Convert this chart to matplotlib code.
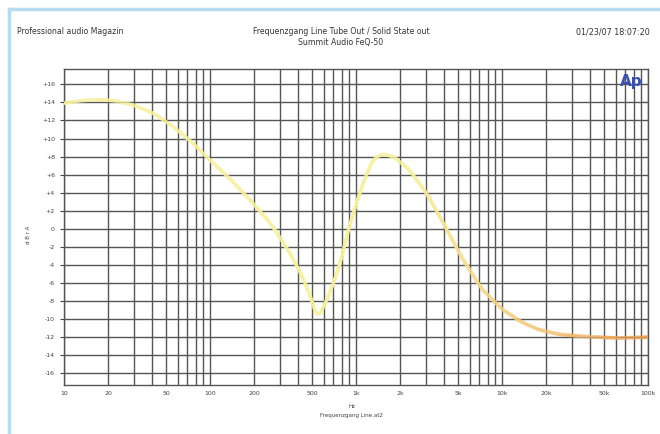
import numpy as np
import matplotlib.pyplot as plt
from matplotlib.collections import LineCollection

# frequency response
freq_hz = [10, 13, 17, 22, 30, 41, 55, 75, 100, 140, 190, 260, 350, 420,
           480, 545, 590, 680, 780, 900, 1100, 1300, 1500, 1800, 2300, 3000,
           4000, 5400, 7300, 10000, 13500, 18000, 25000, 34000, 46000, 62000, 100000]
level_db = [13.9, 14.2, 14.3, 14.2, 13.7, 12.8, 11.4, 9.6, 7.6, 5.4, 3.1, 0.6,
            -2.6, -5.0, -7.2, -9.9, -8.9, -6.6, -3.8, 0.3, 4.8, 7.6, 8.3, 8.0, 6.6, 4.1,
            0.5, -3.4, -6.7, -8.9, -10.3, -11.2, -11.7, -11.9, -12.0, -12.1, -12.0]

xticks = [10, 20, 50, 100, 200, 500, 1000, 2000, 5000, 10000, 20000, 50000, 100000]
xlabels = ['10', '20', '50', '100', '200', '500', '1k', '2k', '5k', '10k', '20k', '50k', '100k']
yticks = list(range(16, -17, -2))
ylabels = ['+%d' % v if v > 0 else '%d' % v for v in yticks]

fig = plt.figure(figsize=(6.6, 4.34), dpi=100)
ax = fig.add_axes([64 / 660, 1 - 385 / 434, 584 / 660, 316 / 434])

# smooth curve in log space
lx = np.log10(freq_hz)
xs = np.linspace(lx[0], lx[-1], 600)
ys = np.interp(xs, lx, level_db)
k = np.ones(7) / 7
ys = np.convolve(np.pad(ys, 3, mode='edge'), k, mode='valid')
pts = np.column_stack([10 ** xs, ys]).reshape(-1, 1, 2)
segs = np.concatenate([pts[:-1], pts[1:]], axis=1)
t = np.linspace(0, 1, len(segs))
c0 = np.array([0.97, 0.94, 0.60])
c1 = np.array([0.93, 0.62, 0.32])
w = np.clip((t - 0.6) / 0.4, 0, 1)[:, None]
cols = c0 * (1 - w) + c1 * w
ax.add_collection(LineCollection(segs, colors=cols, linewidths=2.6, zorder=3))

ax.set_xscale('log')
ax.set_xlim(10, 100000)
ax.set_ylim(-17.3, 17.7)
ax.set_xticks(xticks)
ax.set_xticklabels(xlabels)
ax.set_yticks(yticks)
ax.set_yticklabels(ylabels)
ax.grid(True, which='major', color='#555555', lw=1.0)
ax.grid(True, which='minor', axis='x', color='#555555', lw=1.0)
ax.tick_params(axis='both', labelsize=4.5, colors='#444444', length=3)
ax.tick_params(axis='x', which='minor', length=0)
ax.tick_params(axis='x', length=0, pad=4)
for s in ax.spines.values():
    s.set_color('#555555')
    s.set_linewidth(1.0)

ax.text(0.99, 0.985, 'Ap', transform=ax.transAxes, ha='right', va='top',
        fontsize=11, color='#3a50b0', fontweight='bold', zorder=5)

fig.text(17 / 660, 1 - 32 / 434, 'Professional audio Magazin', fontsize=5.6, color='#333333', va='center')
fig.text(341 / 660, 1 - 32 / 434, 'Frequenzgang Line Tube Out / Solid State out', fontsize=5.6,
         color='#333333', va='center', ha='center')
fig.text(341 / 660, 1 - 42 / 434, 'Summit Audio FeQ-50', fontsize=5.6, color='#333333',
         va='center', ha='center')
fig.text(650 / 660, 1 - 32 / 434, '01/23/07 18:07:20', fontsize=5.8, color='#333333',
         va='center', ha='right')
fig.text(28 / 660, 1 - 235 / 434, 'd B r A', fontsize=4, color='#444444', rotation=90,
         va='center', ha='center')
fig.text(352 / 660, 1 - 406 / 434, 'Hz', fontsize=4, color='#444444', ha='center', va='center')
fig.text(352 / 660, 1 - 416 / 434, 'Frequenzgang Line.at2', fontsize=4, color='#444444',
         ha='center', va='center')

# light blue frame
fig.add_artist(plt.Line2D([9 / 660, 9 / 660], [0, 1 - 9 / 434], color='#b7dcef', lw=2.5))
fig.add_artist(plt.Line2D([9 / 660, 1], [1 - 9 / 434, 1 - 9 / 434], color='#b7dcef', lw=2.5))

fig.savefig('out.png', dpi=100)
